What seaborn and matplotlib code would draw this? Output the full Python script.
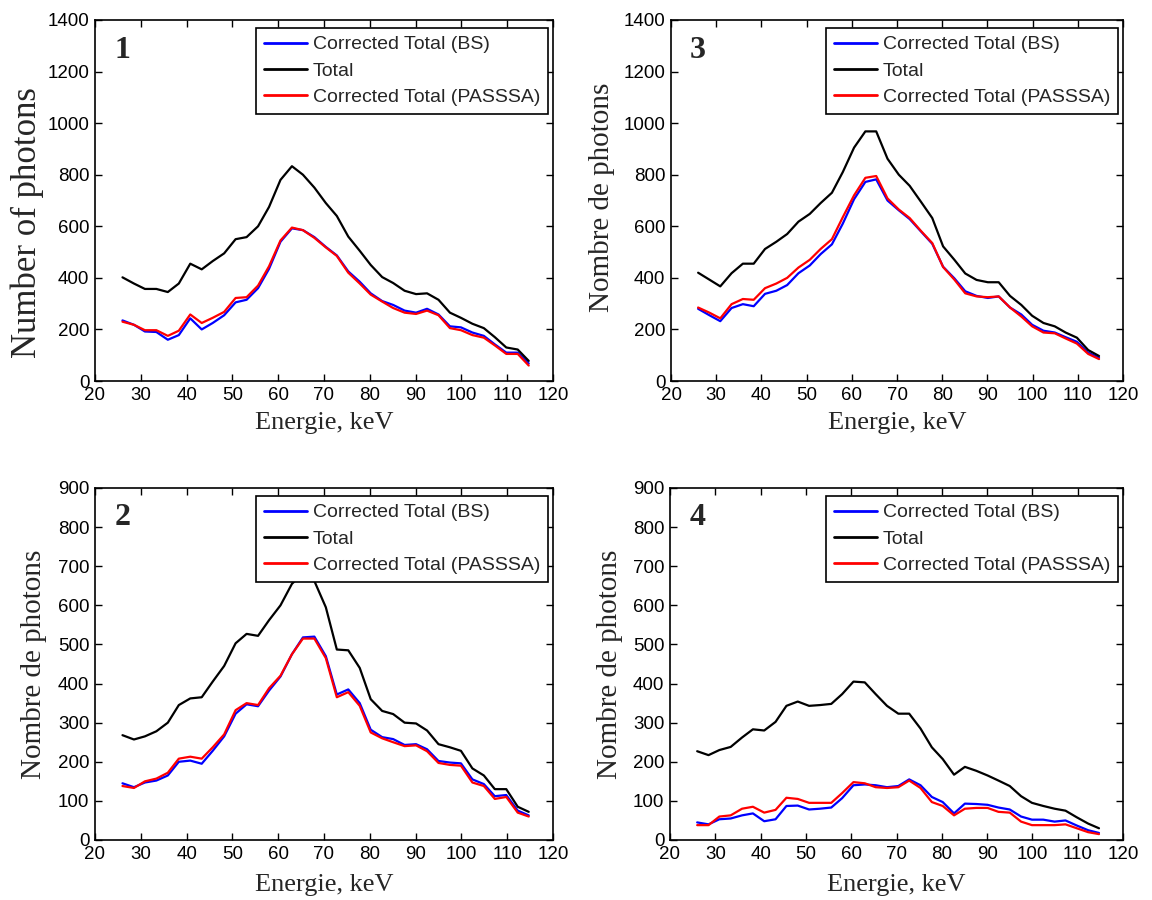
import numpy as np
import pandas as pd
import matplotlib
matplotlib.use("Agg")
import matplotlib.pyplot as plt
import seaborn as sns

# energie (keV) commune aux quatre spectres
energies = [26.0, 28.5, 30.9, 33.4, 35.9, 38.3, 40.8, 43.3, 45.7, 48.2,
            50.7, 53.1, 55.6, 58.0, 60.5, 63.0, 65.4, 67.9, 70.4, 72.8,
            75.3, 77.8, 80.2, 82.7, 85.1, 87.6, 90.1, 92.5, 95.0, 97.5,
            99.9, 102.4, 104.9, 107.3, 109.8, 112.3, 114.7]

# panneau 1
total_1 = [402, 378, 357, 357, 345, 378, 455, 433, 465, 495,
           550, 558, 600, 675, 780, 833, 800, 750, 690, 640,
           560, 505, 450, 403, 380, 350, 337, 340, 315, 265,
           245, 222, 205, 170, 130, 122, 78]
bs_1 = [235, 218, 192, 190, 160, 178, 243, 200, 225, 255,
        305, 315, 360, 435, 540, 592, 585, 558, 520, 487,
        425, 385, 340, 310, 295, 273, 265, 280, 258, 212,
        208, 188, 175, 142, 110, 110, 68]
passsa_1 = [230, 218, 197, 197, 175, 195, 258, 225, 245, 268,
            322, 325, 370, 445, 545, 595, 585, 555, 518, 485,
            420, 378, 335, 308, 283, 265, 260, 273, 255, 205,
            197, 178, 168, 138, 105, 105, 60]

# panneau 2
total_2 = [268, 257, 265, 278, 300, 345, 362, 365, 405, 445,
           503, 527, 522, 562, 600, 655, 682, 662, 595, 487,
           485, 440, 360, 330, 322, 300, 298, 280, 245, 237,
           228, 183, 165, 130, 130, 85, 72]
bs_2 = [145, 135, 147, 152, 165, 200, 203, 195, 228, 265,
        323, 347, 342, 382, 418, 475, 518, 520, 470, 372,
        385, 350, 282, 263, 258, 243, 245, 232, 202, 198,
        196, 155, 143, 112, 115, 75, 63]
passsa_2 = [138, 133, 150, 157, 172, 208, 213, 208, 237, 270,
            332, 350, 345, 388, 420, 475, 515, 515, 465, 365,
            378, 343, 275, 260, 250, 240, 242, 227, 197, 192,
            190, 147, 138, 105, 110, 70, 60]

# panneau 3
total_3 = [420, 393, 367, 418, 455, 455, 512, 540, 570, 618,
           648, 690, 730, 810, 905, 968, 968, 862, 800, 757,
           695, 632, 522, 470, 417, 392, 383, 383, 330, 295,
           253, 225, 212, 188, 168, 120, 97]
bs_3 = [280, 255, 232, 283, 298, 290, 338, 350, 372, 418,
        448, 492, 530, 610, 705, 772, 782, 700, 662, 628,
        580, 532, 443, 398, 348, 330, 322, 328, 285, 258,
        218, 195, 188, 170, 152, 110, 90]
passsa_3 = [285, 265, 243, 298, 318, 315, 360, 378, 400, 440,
            470, 512, 550, 635, 720, 788, 795, 708, 665, 632,
            582, 535, 442, 393, 340, 328, 325, 328, 285, 250,
            212, 188, 185, 165, 145, 105, 85]

# panneau 4
total_4 = [227, 217, 230, 238, 262, 283, 280, 302, 343, 354,
           343, 345, 348, 373, 405, 403, 373, 343, 323, 323,
           285, 237, 207, 167, 187, 177, 165, 152, 138, 112,
           95, 87, 80, 75, 58, 42, 30]
bs_4 = [45, 40, 53, 55, 63, 68, 48, 53, 87, 88,
        78, 80, 83, 107, 140, 142, 140, 135, 138, 155,
        140, 110, 97, 68, 93, 92, 90, 83, 78, 60,
        52, 52, 47, 50, 37, 25, 18]
passsa_4 = [38, 38, 60, 63, 80, 85, 70, 77, 108, 105,
            95, 95, 95, 120, 148, 145, 135, 133, 135, 152,
            133, 97, 87, 63, 80, 82, 82, 72, 70, 47,
            38, 38, 38, 40, 30, 20, 15]

series_names = ["Corrected Total (BS)", "Total", "Corrected Total (PASSSA)"]
series_colors = ["#0000ff", "#000000", "#ff0000"]

sns.set_theme(style="ticks")
plt.rcParams['font.family'] = ['Liberation Sans', 'DejaVu Sans']
plt.rcParams['xtick.direction'] = 'in'
plt.rcParams['ytick.direction'] = 'in'
plt.rcParams['xtick.top'] = True
plt.rcParams['ytick.right'] = True
plt.rcParams['axes.edgecolor'] = 'black'
plt.rcParams['axes.linewidth'] = 1.2

W, H = 1152, 900
fig = plt.figure(figsize=(W / 100, H / 100), dpi=100)

# (numero, donnees, ylabel, ymax, pas, boite px [gauche, haut, droite, bas], pos ylabel, taille ylabel, pos xlabel)
panels = [
    ("1", (bs_1, total_1, passsa_1), "Number of photons", 1400, 200,
     (95, 20, 553, 381), (-0.148, 0.44), 25, -0.116),
    ("3", (bs_3, total_3, passsa_3), "Nombre de photons", 1400, 200,
     (671, 20, 1123, 381), (-0.153, 0.51), 21, -0.116),
    ("2", (bs_2, total_2, passsa_2), "Nombre de photons", 900, 100,
     (95, 488, 553, 840), (-0.133, 0.5), 21, -0.128),
    ("4", (bs_4, total_4, passsa_4), "Nombre de photons", 900, 100,
     (670, 488, 1123, 840), (-0.132, 0.5), 21, -0.128),
]

serif = ['Liberation Serif', 'DejaVu Serif']

for num, data, ylab, ymax, step, box, ylpos, ylsize, xlpos in panels:
    l, t, r, b = box
    ax = fig.add_axes([l / W, 1 - b / H, (r - l) / W, (b - t) / H])
    for name, color, vals in zip(series_names, series_colors, data):
        sns.lineplot(x=energies, y=vals, color=color, label=name, ax=ax,
                     linewidth=1.6, sort=False)
    ax.set_xlim(20, 120)
    ax.set_ylim(0, ymax)
    ax.set_xticks(np.arange(20, 121, 10))
    ax.set_yticks(np.arange(0, ymax + 1, step))
    ax.tick_params(labelsize=13.5, length=5, width=1, color='black',
                   labelcolor='black', pad=4)
    ax.set_xlabel("Energie, keV", fontsize=19, family=serif)
    ax.xaxis.set_label_coords(0.5, xlpos)
    ax.xaxis.label.set_verticalalignment('center')
    ax.set_ylabel(ylab, fontsize=ylsize, family=serif)
    ax.yaxis.set_label_coords(*ylpos)
    ax.yaxis.label.set_verticalalignment('center')
    ax.text(0.06, 0.915, num, transform=ax.transAxes, ha='center',
            va='center', fontsize=23, fontweight='bold', family=serif)
    pw, ph = r - l, b - t
    leg = ax.legend(loc='upper right', bbox_to_anchor=(1 - 5 / pw, 1 - 8 / ph),
                    borderaxespad=0, fontsize=14, frameon=True, fancybox=False,
                    framealpha=1, edgecolor='black', handlelength=2.2,
                    handletextpad=0.3, labelspacing=0.45, borderpad=0.4)
    leg.get_frame().set_linewidth(1.2)
    for line in leg.get_lines():
        line.set_linewidth(2)

fig.savefig("out.png", dpi=100)
